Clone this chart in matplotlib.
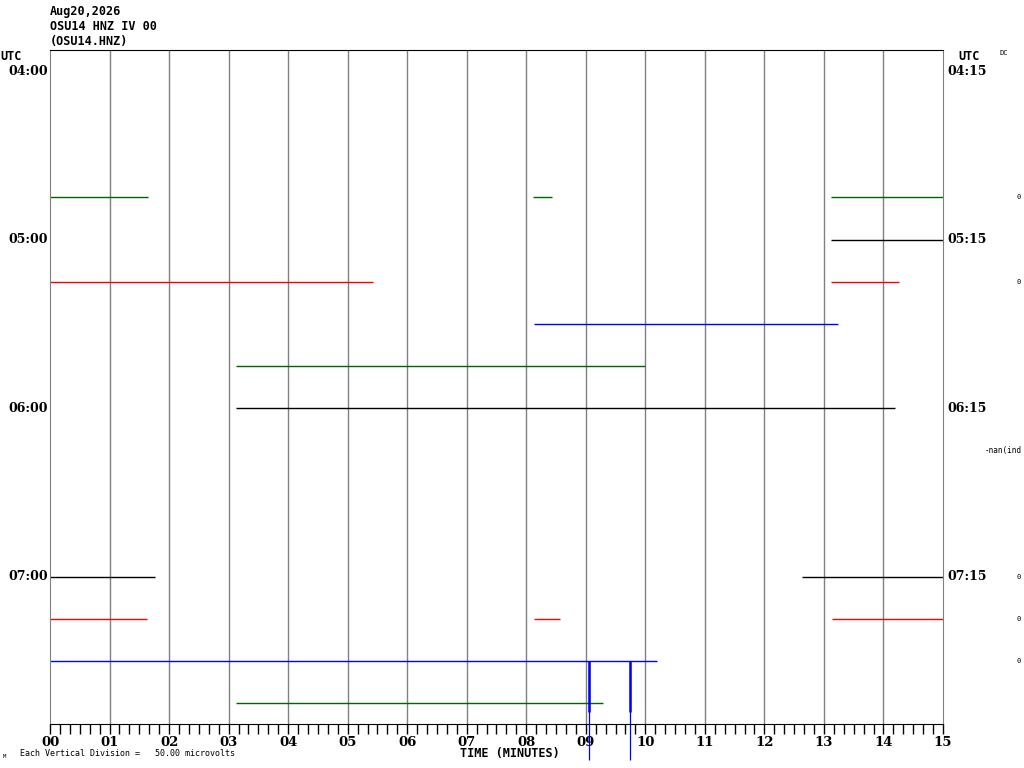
'''
Helicorder style plot of one hour of OSU14 HNZ, 15 minutes per line
'''
import matplotlib
matplotlib.use('Agg')
import matplotlib.pyplot as plt
from matplotlib.ticker import MultipleLocator

# header text
header_lines = ['Aug20,2026', 'OSU14 HNZ IV 00', '(OSU14.HNZ)']

# line labels, one per hour (every 4th line)
left_labels = ['04:00', '05:00', '06:00', '07:00']
right_labels = ['04:15', '05:15', '06:15', '07:15']
label_rows = [0, 4, 8, 12]

# trace pieces: line number, start minute, end minute
trace_rows = [3, 3, 3, 4, 5, 5, 6, 7, 8, 12, 12, 13, 13, 13, 14, 15]
trace_start = [0.0, 8.11, 13.12, 13.12, 0.0, 13.12, 8.13, 3.12, 3.12,
               0.0, 12.63, 0.0, 8.13, 13.14, 0.0, 3.12]
trace_end = [1.65, 8.43, 15.0, 15.0, 5.42, 14.26, 13.24, 10.0, 14.2,
             1.77, 15.0, 1.63, 8.57, 15.0, 10.2, 9.29]

# spikes on line 14 (minute, depth of thick part, depth of thin tail)
spike_row = 14
spike_minutes = [9.05, 9.74]
spike_thick = [1.22, 1.22]
spike_tail = [2.35, 2.35]

# values printed at the right edge
right_value_rows = [3, 5, 12, 13, 14]
right_value_text = ['0', '0', '0', '0', '0']
nan_row = 9
nan_text = '-nan(ind'

TRACE_COLORS = ['black', 'red', 'blue', '#006400']
N_ROWS = 16
W, H = 1024, 768


def fpos(x, y):
    """pixel position -> figure fraction"""
    return x / W, 1 - y / H


fig = plt.figure(figsize=(W / 100, H / 100), dpi=100)
ax = fig.add_axes([50 / W, 44 / H, 893 / W, 674 / H])
ax.set_xlim(0, 15)
ax.set_ylim(N_ROWS - 0.5, -0.5)

# minute grid
for m in range(1, 15):
    ax.axvline(m, color='#808080', lw=1.0, zorder=1)

for r, s, e in zip(trace_rows, trace_start, trace_end):
    ax.plot([s, e], [r, r], color=TRACE_COLORS[r % 4], lw=1.0, zorder=2,
            solid_capstyle='butt')

spike_color = TRACE_COLORS[spike_row % 4]
for m, d1, d2 in zip(spike_minutes, spike_thick, spike_tail):
    ax.plot([m, m], [spike_row, spike_row + d1], color=spike_color, lw=1.8,
            zorder=3, solid_capstyle='butt')
    ax.plot([m, m], [spike_row, spike_row + d2], color=spike_color, lw=0.9,
            zorder=3, clip_on=False, solid_capstyle='butt')

# axes look
ax.set_yticks([])
for side in ['left', 'right']:
    ax.spines[side].set_color('#808080')
ax.spines['top'].set_color('black')
ax.spines['bottom'].set_color('black')
ax.xaxis.set_major_locator(MultipleLocator(1))
ax.xaxis.set_minor_locator(MultipleLocator(1 / 6))
ax.set_xticks(range(16))
ax.set_xticklabels(['%02d' % m for m in range(16)], fontfamily='DejaVu Serif',
                   fontweight='bold', fontsize=9.5)
ax.tick_params(axis='x', which='both', direction='out', length=7, width=1,
               color='black', pad=1.5)

bold_serif = dict(fontfamily='DejaVu Serif', fontweight='bold', fontsize=9)
mono = dict(fontfamily='DejaVu Sans Mono', fontweight='bold', fontsize=8.5)

for r, lab_l, lab_r in zip(label_rows, left_labels, right_labels):
    ax.text(-0.03, r, lab_l, ha='right', va='center', **bold_serif)
    ax.text(15.08, r, lab_r, ha='left', va='center', **bold_serif)

fig.text(*fpos(0, 57), 'UTC', ha='left', va='center', **mono)
fig.text(*fpos(958, 57), 'UTC', ha='left', va='center', **mono)
fig.text(*fpos(999, 53), 'DC', ha='left', va='center',
         fontfamily='DejaVu Sans Mono', fontsize=5)

for i, line in enumerate(header_lines):
    fig.text(*fpos(50, 11 + 15 * i), line, ha='left', va='center', **mono)

for r, t in zip(right_value_rows, right_value_text):
    ax.text(15.0 + 73 / 59.53, r, t, ha='left', va='center',
            fontfamily='DejaVu Sans Mono', fontsize=5)
ax.text(15.0 + 42 / 59.53, nan_row, nan_text, ha='left', va='center',
        fontfamily='DejaVu Sans Mono', fontsize=5.5, clip_on=False)

fig.text(*fpos(510, 754), 'TIME (MINUTES)', ha='center', va='center', **mono)
fig.text(*fpos(20, 754), 'Each Vertical Division =   50.00 microvolts',
         ha='left', va='center', fontfamily='DejaVu Sans Mono', fontsize=6)
fig.text(*fpos(3, 757), 'M', ha='left', va='center',
         fontfamily='DejaVu Sans Mono', fontsize=4)

fig.savefig('out.png', dpi=100)
